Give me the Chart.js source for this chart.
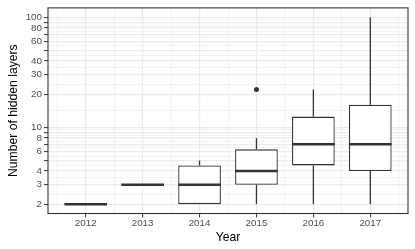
<!DOCTYPE html>
<html>
<head>
<meta charset="utf-8">
<script src="https://cdn.jsdelivr.net/npm/chart.js@4.4.1/dist/chart.umd.min.js"></script>
<style>
  html, body { margin: 0; padding: 0; background: #ffffff; }
  #wrap { width: 415px; height: 249px; position: relative; }
</style>
</head>
<body>
<div id="wrap"><canvas id="c" width="415" height="249"></canvas></div>
<script>
// ---- data ----
const years = ['2012', '2013', '2014', '2015', '2016', '2017'];
const whiskerLow = [2, 3, 2, 2, 2, 2];
const q1 = [2, 3, 2, 3, 4.5, 4];
const median = [2, 3, 3, 4, 7, 7];
const q3 = [2, 3, 4.5, 6.3, 12.5, 16];
const whiskerHigh = [2, 3, 5, 8, 22, 100];
const outlierYears = ['2015'];
const outlierValues = [22];
const yTickValues = [2, 3, 4, 5, 6, 7, 8, 9, 10, 20, 30, 40, 50, 60, 70, 80, 90, 100];
const yTickLabels = ['2', '3', '4', '', '6', '', '8', '', '10', '20', '30', '40', '', '60', '', '80', '', '100'];

// ---- styling constants ----
const FONT = '"Liberation Sans", Arial, Helvetica, sans-serif';
const DARK = '#333333';
const GRID = '#EBEBEB';
const BOX_HALF = 0.375;

// build datasets from arrays
const boxData = years.map((y, i) => ({ x: i, y: [q1[i], q3[i]] }));
const whiskerData = [];
years.forEach((y, i) => {
  whiskerData.push({ x: i, y: whiskerLow[i] }, { x: i, y: q1[i] }, { x: i, y: null });
  whiskerData.push({ x: i, y: q3[i] }, { x: i, y: whiskerHigh[i] }, { x: i, y: null });
});
const medianData = [];
years.forEach((y, i) => {
  medianData.push({ x: i - BOX_HALF, y: median[i] }, { x: i + BOX_HALF, y: median[i] }, { x: i, y: null });
});
const outlierData = outlierYears.map((yr, k) => ({ x: years.indexOf(yr), y: outlierValues[k] }));

// y ticks: majors + minor (log-midpoint) grid lines
const yTicks = [];
yTickValues.forEach((v, i) => {
  yTicks.push({ value: v, label: yTickLabels[i], minor: false });
  if (i < yTickValues.length - 1) {
    yTicks.push({ value: Math.sqrt(v * yTickValues[i + 1]), label: '', minor: true });
  }
});
// x ticks: categories + half-step minor grid lines
const xTicks = [];
for (let i = -1; i < years.length; i++) {
  if (i >= 0) xTicks.push({ value: i, label: years[i], minor: false });
  xTicks.push({ value: i + 0.5, label: '', minor: true });
}

const borderPlugin = {
  id: 'panelBorder',
  afterDraw(chart) {
    const { ctx, chartArea: a } = chart;
    ctx.save();
    ctx.strokeStyle = DARK;
    ctx.lineWidth = 1.1;
    ctx.strokeRect(a.left, a.top, a.right - a.left, a.bottom - a.top);
    ctx.restore();
  }
};

new Chart(document.getElementById('c'), {
  type: 'bar',
  data: {
    datasets: [
      {
        type: 'bar',
        label: 'box',
        data: boxData,
        backgroundColor: '#ffffff',
        borderColor: DARK,
        borderWidth: 1.3,
        borderSkipped: false,
        barPercentage: 1.5,
        categoryPercentage: 1.0,
        order: 3
      },
      {
        type: 'line',
        label: 'whiskers',
        data: whiskerData,
        borderColor: DARK,
        borderWidth: 1.3,
        pointRadius: 0,
        spanGaps: false,
        fill: false,
        order: 4
      },
      {
        type: 'line',
        label: 'median',
        data: medianData,
        borderColor: DARK,
        borderWidth: 2.5,
        borderCapStyle: 'butt',
        pointRadius: 0,
        spanGaps: false,
        fill: false,
        order: 1
      },
      {
        type: 'line',
        label: 'outliers',
        data: outlierData,
        showLine: false,
        pointRadius: 2.5,
        pointBackgroundColor: DARK,
        pointBorderWidth: 0,
        borderColor: DARK,
        order: 0
      }
    ]
  },
  options: {
    responsive: false,
    animation: false,
    events: [],
    layout: { padding: { top: 6, right: 7, left: 0, bottom: 0 } },
    plugins: { legend: { display: false }, tooltip: { enabled: false } },
    scales: {
      x: {
        type: 'linear',
        offset: false,
        bounds: 'data',
        min: -0.6625,
        max: 5.6625,
        afterBuildTicks: s => { s.ticks = xTicks.map(t => ({ ...t })); },
        afterFit: s => { s.height = 35.5; },
        border: { display: false },
        grid: {
          offset: false,
          color: GRID,
          lineWidth: c => (c.tick && c.tick.minor ? 0.6 : 1.2),
          tickColor: c => (c.tick && c.tick.minor ? 'rgba(0,0,0,0)' : DARK),
          tickLength: 4,
          tickWidth: 1
        },
        ticks: {
          autoSkip: false,
          maxRotation: 0,
          minRotation: 0,
          padding: 0,
          color: '#4D4D4D',
          font: { family: FONT, size: 9.8 },
          callback: function (v, i, ticks) { return ticks[i].label; }
        },
        title: {
          display: true,
          text: 'Year',
          color: '#000000',
          font: { family: FONT, size: 12.2 },
          padding: { top: 0, bottom: 4 }
        }
      },
      y: {
        type: 'logarithmic',
        min: 1.645,
        max: 121.6,
        afterBuildTicks: s => { s.ticks = yTicks.map(t => ({ ...t })); },
        afterFit: s => { s.width = 48; },
        border: { display: false },
        grid: {
          color: GRID,
          lineWidth: c => (c.tick && c.tick.minor ? 0.6 : 1.2),
          tickColor: c => (c.tick && c.tick.minor ? 'rgba(0,0,0,0)' : DARK),
          tickLength: 4,
          tickWidth: 1
        },
        ticks: {
          autoSkip: false,
          padding: 2,
          color: '#4D4D4D',
          font: { family: FONT, size: 9.8 },
          callback: function (v, i, ticks) { return ticks[i].label; }
        },
        title: {
          display: true,
          text: 'Number of hidden layers',
          color: '#000000',
          font: { family: FONT, size: 12.2 },
          padding: { top: 6, bottom: 0 }
        }
      }
    }
  },
  plugins: [borderPlugin]
});
</script>
</body>
</html>
